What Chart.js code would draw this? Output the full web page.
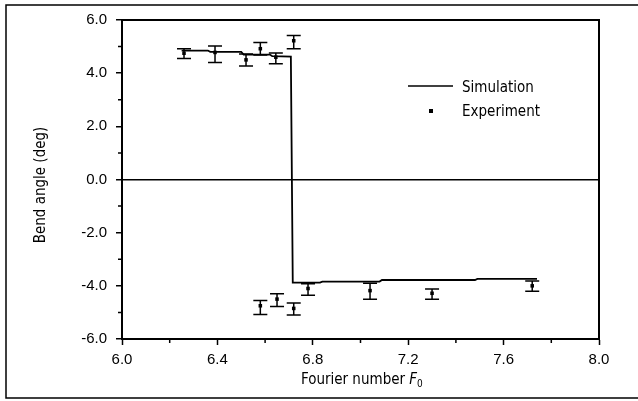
<!DOCTYPE html>
<html>
<head>
<meta charset="utf-8">
<script src="https://cdn.jsdelivr.net/npm/chart.js@4"></script>
<style>
  body { margin: 0; background: #fff; }
  #wrap { width: 638px; height: 401px; position: relative; }
</style>
</head>
<body>
<div id="wrap"><canvas id="bend"></canvas></div>
<script>
// simulation curve (step shape)
var simX = [6.25, 6.36, 6.37, 6.50, 6.51, 6.62, 6.63, 6.708, 6.716, 6.83, 6.84, 7.08, 7.09, 7.48, 7.49, 7.74];
var simY = [4.85, 4.85, 4.80, 4.80, 4.70, 4.70, 4.64, 4.62, -3.88, -3.88, -3.84, -3.84, -3.78, -3.78, -3.74, -3.74];

// experiment points with error bar ends
var expX  = [6.26, 6.39, 6.52, 6.58, 6.645, 6.72, 6.58, 6.65, 6.72, 6.78, 7.04, 7.30, 7.72];
var expY  = [4.75, 4.78, 4.50, 4.92, 4.60, 5.22, -4.75, -4.50, -4.85, -4.10, -4.18, -4.28, -4.00];
var expHi = [4.92, 5.02, 4.72, 5.15, 4.76, 5.42, -4.55, -4.30, -4.65, -3.92, -3.90, -4.12, -3.82];
var expLo = [4.55, 4.40, 4.27, 4.68, 4.35, 4.92, -5.08, -4.78, -5.10, -4.35, -4.50, -4.50, -4.20];

var xMinor = [6.2, 6.6, 7.0, 7.4, 7.8];
var yMinor = [-5, -3, -1, 1, 3, 5];

var narrow = '"Liberation Sans Narrow", "Arial Narrow", "DejaVu Sans Condensed", sans-serif';

var extras = {
    id: 'extras',
    afterDatasetsDraw: (chart) => {
        const {ctx, chartArea: a, scales: {x, y}} = chart;
        ctx.save();
        ctx.strokeStyle = '#000';
        ctx.fillStyle = '#000';

        // error bars
        ctx.lineWidth = 1.5;
        for (var i = 0; i < expX.length; i++) {
            var px = x.getPixelForValue(expX[i]);
            var ph = y.getPixelForValue(expHi[i]);
            var pl = y.getPixelForValue(expLo[i]);
            ctx.beginPath();
            ctx.moveTo(px, ph); ctx.lineTo(px, pl);
            ctx.moveTo(px - 7, ph); ctx.lineTo(px + 7, ph);
            ctx.moveTo(px - 7, pl); ctx.lineTo(px + 7, pl);
            ctx.stroke();
        }

        // top / right frame of plot
        ctx.lineWidth = 2;
        ctx.beginPath();
        ctx.moveTo(a.left, a.top); ctx.lineTo(a.right, a.top); ctx.lineTo(a.right, a.bottom);
        ctx.stroke();

        // minor ticks
        ctx.lineWidth = 1.5;
        ctx.beginPath();
        yMinor.forEach(v => { var p = y.getPixelForValue(v); ctx.moveTo(a.left - 4, p); ctx.lineTo(a.left, p); });
        xMinor.forEach(v => { var p = x.getPixelForValue(v); ctx.moveTo(p, a.bottom); ctx.lineTo(p, a.bottom + 4); });
        ctx.stroke();

        // legend
        ctx.lineWidth = 1.5;
        ctx.beginPath();
        ctx.moveTo(408, 86); ctx.lineTo(453, 86);
        ctx.stroke();
        ctx.fillRect(429, 109, 4, 4);
        ctx.font = '15px ' + narrow;
        ctx.textBaseline = 'middle';
        ctx.fillText('Simulation', 462, 88);
        ctx.fillText('Experiment', 462, 112);

        // y axis title
        ctx.save();
        ctx.translate(41, 185);
        ctx.rotate(-Math.PI / 2);
        ctx.textAlign = 'center';
        ctx.font = '15px ' + narrow;
        ctx.fillText('Bend angle (deg)', 0, 0);
        ctx.restore();

        // x axis title
        ctx.font = '15px ' + narrow;
        ctx.textBaseline = 'alphabetic';
        var t1 = 'Fourier number ';
        var w1 = ctx.measureText(t1).width;
        ctx.font = 'italic 15px ' + narrow;
        var w2 = ctx.measureText('F').width;
        var x0 = 362 - (w1 + w2 + 6) / 2;
        ctx.font = '15px ' + narrow;
        ctx.fillText(t1, x0, 384);
        ctx.font = 'italic 15px ' + narrow;
        ctx.fillText('F', x0 + w1, 384);
        ctx.font = '10px ' + narrow;
        ctx.fillText('0', x0 + w1 + w2, 387);

        // outer frame
        ctx.lineWidth = 1.5;
        ctx.beginPath();
        ctx.moveTo(640, 5); ctx.lineTo(6, 5); ctx.lineTo(6, 398); ctx.lineTo(640, 398);
        ctx.stroke();
        ctx.restore();
    }
};

new Chart(document.getElementById('bend'), {
    type: 'scatter',
    data: {
        datasets: [{
            label: 'Simulation',
            data: simX.map((v, i) => ({x: v, y: simY[i]})),
            showLine: true,
            borderColor: '#000',
            borderWidth: 1.8,
            pointRadius: 0,
            tension: 0
        }, {
            label: 'Experiment',
            data: expX.map((v, i) => ({x: v, y: expY[i]})),
            pointStyle: 'rect',
            pointRadius: 2.5,
            backgroundColor: '#000',
            borderColor: '#000',
            borderWidth: 0
        }]
    },
    options: {
        responsive: true,
        maintainAspectRatio: false,
        animation: false,
        layout: {padding: {left: 36, right: 39, top: 20, bottom: 0}},
        plugins: {
            legend: {display: false},
            tooltip: {enabled: false}
        },
        scales: {
            x: {
                type: 'linear',
                min: 6, max: 8,
                afterFit: (s) => { s.height = 62; },
                border: {display: true, color: '#000', width: 2},
                grid: {drawOnChartArea: false, tickLength: 6, tickColor: '#000', tickWidth: 1.5},
                ticks: {
                    stepSize: 0.4,
                    color: '#000',
                    padding: 6,
                    font: {family: '"Liberation Sans", Arial, sans-serif', size: 15},
                    callback: (v) => Number(v).toFixed(1)
                }
            },
            y: {
                min: -6, max: 6,
                afterFit: (s) => { s.width = 86; },
                border: {display: true, color: '#000', width: 2},
                grid: {
                    color: (c) => c.tick && c.tick.value === 0 ? '#000' : 'rgba(0,0,0,0)',
                    lineWidth: 1.5,
                    tickLength: 6, tickColor: '#000', tickWidth: 1.5
                },
                ticks: {
                    stepSize: 2,
                    color: '#000',
                    padding: 9,
                    font: {family: '"Liberation Sans", Arial, sans-serif', size: 15},
                    callback: (v) => Number(v).toFixed(1)
                }
            }
        }
    },
    plugins: [extras]
});
</script>
</body>
</html>
